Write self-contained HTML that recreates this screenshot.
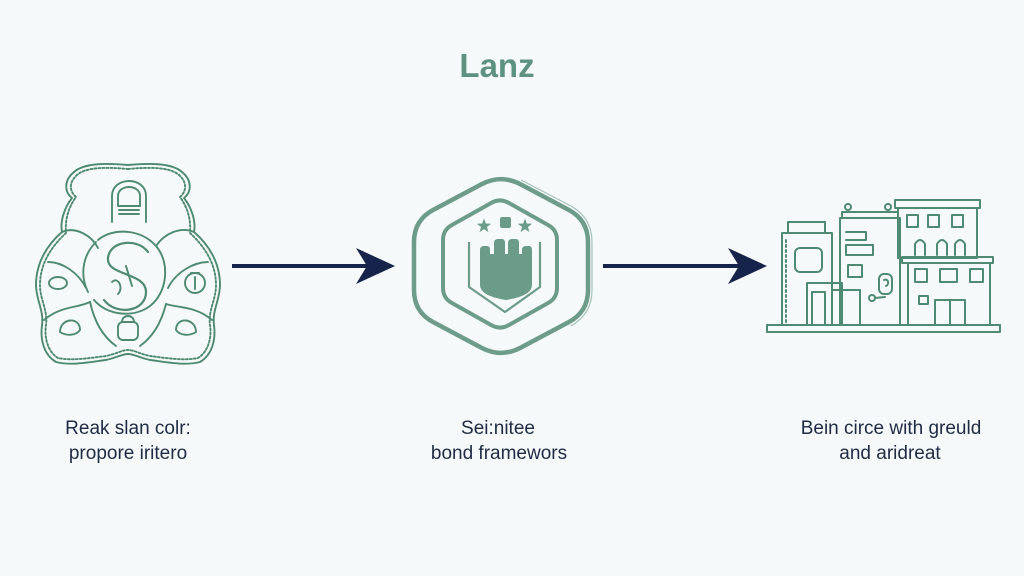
<!DOCTYPE html>
<html>
<head>
<meta charset="utf-8">
<style>
  html,body{margin:0;padding:0;background:#f6f9f9;}
  body{width:1024px;height:576px;overflow:hidden;}
  svg{display:block;}
  .lbl{font-family:"Liberation Sans",sans-serif;font-size:19px;fill:#1f2b45;}
</style>
</head>
<body>
<svg width="1024" height="576" viewBox="0 0 1024 576" xmlns="http://www.w3.org/2000/svg">
  <rect x="0" y="0" width="1024" height="576" fill="#f6f9f9"/>

  <!-- Title -->
  <text x="497" y="77" text-anchor="middle" font-family="Liberation Sans, sans-serif" font-size="33" font-weight="bold" fill="#5e9280">Lanz</text>

  <!-- LEFT ICON -->
  <g fill="none" stroke="#4e8a72" stroke-width="1.9" stroke-linecap="round" stroke-linejoin="round">
    <path d="M128,165 C150,163 172,163 182,172 C192,180 192,192 184,198 C192,208 196,222 194,232 C208,244 220,262 220,285 C220,300 212,310 214,325 C216,340 212,355 200,362 C185,366 165,362 150,360 C140,358 134,354 128,354 C122,354 116,358 106,360 C91,362 71,366 56,362 C44,355 40,340 42,325 C44,310 36,300 36,285 C36,262 48,244 62,232 C60,222 64,208 72,198 C64,192 64,180 74,172 C84,163 106,163 128,165 Z"/>
    <path stroke-dasharray="2 2" d="M128,169 C150,167 170,167 179,175 C187,182 187,191 180,197 C188,208 191,220 190,233 C204,246 216,263 216,285 C216,300 208,310 210,325 C212,338 208,352 198,358 C184,361 166,358 150,356 C140,354 134,350 128,350 C122,350 116,354 106,356 C90,358 72,361 58,358 C48,352 44,338 46,325 C48,310 40,300 40,285 C40,263 52,246 66,233 C65,220 68,208 76,197 C69,191 69,182 77,175 C86,167 106,167 128,169 Z"/>
    <!-- head arch -->
    <path d="M112,222 L112,196 C112,176 146,176 146,196 L146,222"/>
    <path d="M118,206 L118,196 C118,184 140,184 140,196 L140,206 Z"/>
    <path d="M119,210 L139,210 M119,214 L139,214"/>
    <!-- S circle -->
    <path d="M98,240 C112,228 140,228 156,246 C170,262 168,292 150,306 C134,318 108,316 94,300"/>
    <path d="M88,292 C80,276 82,256 96,242"/>
    <path stroke-width="2.2" d="M148,252 C138,238 110,240 108,258 C106,276 146,272 146,292 C146,312 116,316 104,300"/>
    <path d="M112,282 C118,276 124,288 118,294 M126,266 L132,286"/>
    <!-- arms / body lines -->
    <path d="M62,232 C76,226 92,236 98,248"/>
    <path d="M194,232 C180,226 164,234 156,246"/>
    <path d="M48,262 C62,262 78,272 86,288"/>
    <path d="M208,262 C194,262 176,272 168,288"/>
    <path d="M44,320 C60,306 78,308 90,302"/>
    <path d="M212,320 C196,306 178,308 166,304"/>
    <path d="M90,302 C94,320 102,336 116,346"/>
    <path d="M166,304 C162,320 154,336 140,346"/>
    <!-- small items -->
    <circle cx="195" cy="283" r="10"/>
    <path d="M195,277 L195,289 M191,273 L199,273"/>
    <ellipse cx="58" cy="283" rx="9" ry="6"/>
    <rect x="118" y="322" width="20" height="18" rx="5"/>
    <path d="M122,322 C122,314 134,314 134,322"/>
    <path d="M60,332 C60,318 80,316 80,330 C76,336 66,336 60,332 Z"/>
    <path d="M196,332 C196,318 176,316 176,330 C180,336 190,336 196,332 Z"/>
  </g>

  <!-- ARROW 1 -->
  <line x1="232" y1="266" x2="372" y2="266" stroke="#16234a" stroke-width="4"/>
  <polygon points="395,266 356,248 367,266 356,284" fill="#16234a"/>

  <!-- CENTER ICON -->
  <g fill="none" stroke="#6d9c8b" stroke-linejoin="round">
    <path stroke-width="4.5" d="M520.5,184.3 L568.5,209.7 Q588,220 588,242 L588,290 Q588,312 568.5,322.3 L520.5,347.7 Q501,358 481.5,347.7 L433.5,322.3 Q414,312 414,290 L414,242 Q414,220 433.5,209.7 L481.5,184.3 Q501,174 520.5,184.3 Z"/>
    <path stroke-width="1.2" opacity="0.6" d="M521,180 L571,206 Q592,218 592,242 L592,290 Q592,314 571,326"/>
    <path stroke-width="4" d="M508.7,202.9 L548.3,225.1 Q557,230 557,240 L557,288 Q557,298 548.3,302.9 L508.7,325.1 Q500,330 491.3,325.1 L451.7,302.9 Q443,298 443,288 L443,240 Q443,230 451.7,225.1 L491.3,202.9 Q500,198 508.7,202.9 Z"/>
    <path stroke-width="2.2" d="M469,242 L469,287 L505,312 L540,287 L540,242"/>
  </g>
  <g fill="#6b9c8a">
    <path d="M480,250 Q480,246 484,246 L487,246 Q490,246 490,250 L490,254 L494,254 L494,243 Q494,239 498,239 L502,239 Q505,239 505,243 L505,254 L508,254 L508,243 Q508,239 512,239 L516,239 Q519,239 519,243 L519,254 L522,254 L522,250 Q522,246 526,246 L529,246 Q532,246 532,250 L532,285 Q532,296 506,300 Q480,296 480,285 Z"/>
    <polygon transform="translate(484,226) scale(1.25)" points="0,-6 1.47,-2.02 5.71,-1.85 2.38,0.77 3.53,4.85 0,2.5 -3.53,4.85 -2.38,0.77 -5.71,-1.85 -1.47,-2.02"/>
    <polygon transform="translate(525,226) scale(1.25)" points="0,-6 1.47,-2.02 5.71,-1.85 2.38,0.77 3.53,4.85 0,2.5 -3.53,4.85 -2.38,0.77 -5.71,-1.85 -1.47,-2.02"/>
    <rect x="500" y="217" width="11" height="11" rx="2"/>
  </g>

  <!-- ARROW 2 -->
  <line x1="603" y1="266" x2="744" y2="266" stroke="#16234a" stroke-width="4"/>
  <polygon points="767,266 728,248 739,266 728,284" fill="#16234a"/>

  <!-- RIGHT ICON: buildings -->
  <g fill="none" stroke="#4f8a74" stroke-width="2" stroke-linejoin="round" stroke-linecap="round">
    <!-- ground -->
    <rect x="767" y="325" width="233" height="7"/>
    <!-- left building -->
    <rect x="788" y="222" width="37" height="11"/>
    <rect x="782" y="233" width="50" height="92"/>
    <rect x="795" y="248" width="27" height="24" rx="5"/>
    <path d="M786,240 L786,322" stroke-dasharray="2 3"/>
    <!-- small front building -->
    <rect x="807" y="283" width="35" height="42"/>
    <rect x="812" y="292" width="13" height="33"/>
    <rect x="832" y="290" width="28" height="35"/>
    <path d="M842,300 L842,322"/>
    <!-- middle building -->
    <rect x="840" y="218" width="60" height="107"/>
    <path d="M842,218 L842,212 L898,212 L898,218"/>
    <circle cx="848" cy="207" r="3"/>
    <circle cx="888" cy="207" r="3"/>
    <path d="M846,232 L866,232 L866,240 L846,240"/>
    <rect x="846" y="245" width="27" height="10"/>
    <rect x="848" y="265" width="14" height="12"/>
    <rect x="879" y="274" width="13" height="20" rx="5"/>
    <path d="M884,280 C888,278 890,284 886,286"/>
    <circle cx="872" cy="298" r="3"/>
    <path d="M875,298 L885,297"/>
    <!-- right upper building -->
    <rect x="895" y="200" width="85" height="8"/>
    <rect x="898" y="208" width="79" height="50"/>
    <rect x="907" y="215" width="11" height="12"/>
    <rect x="928" y="215" width="11" height="12"/>
    <rect x="952" y="215" width="11" height="12"/>
    <path d="M915,255 L915,244 Q920,236 925,244 L925,255"/>
    <path d="M937,255 L937,244 Q942,236 947,244 L947,255"/>
    <path d="M955,255 L955,244 Q960,236 965,244 L965,255"/>
    <!-- cornice -->
    <rect x="902" y="257" width="91" height="6"/>
    <!-- lower right building -->
    <rect x="908" y="263" width="82" height="62"/>
    <rect x="915" y="269" width="12" height="13"/>
    <rect x="940" y="269" width="17" height="13"/>
    <rect x="970" y="269" width="13" height="13"/>
    <rect x="919" y="296" width="9" height="8"/>
    <rect x="935" y="300" width="30" height="25"/>
    <path d="M950,300 L950,325"/>
    <path d="M900,220 L900,322" stroke-dasharray="2 3"/>
  </g>

  <!-- Labels -->
  <text class="lbl" x="128" y="434" text-anchor="middle">Reak slan colr:</text>
  <text class="lbl" x="128" y="459" text-anchor="middle">propore iritero</text>
  <text class="lbl" x="498" y="434" text-anchor="middle">Sei:nitee</text>
  <text class="lbl" x="499" y="459" text-anchor="middle">bond framewors</text>
  <text class="lbl" x="891" y="434" text-anchor="middle">Bein circe with greuld</text>
  <text class="lbl" x="890" y="459" text-anchor="middle">and aridreat</text>
</svg>
</body>
</html>
